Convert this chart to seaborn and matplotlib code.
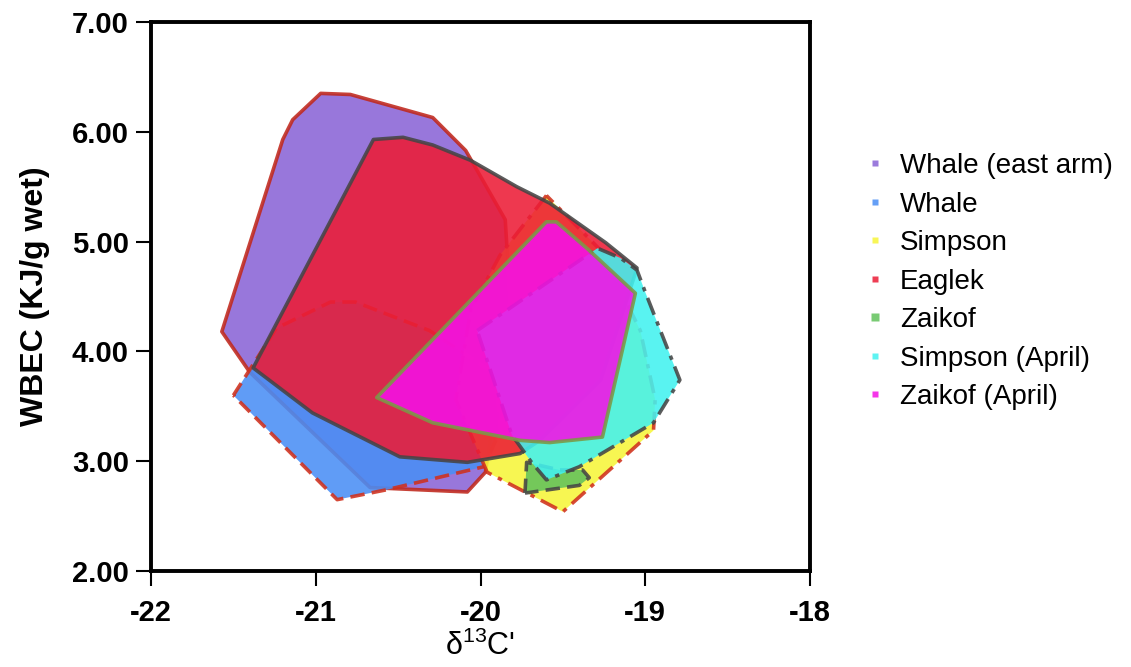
import pandas as pd
import matplotlib.pyplot as plt
import seaborn as sns
from matplotlib.lines import Line2D

# Style
sns.set_theme(style="white")
plt.rcParams['font.family'] = ['Liberation Sans', 'DejaVu Sans']
plt.rcParams['text.color'] = 'black'
plt.rcParams['axes.labelcolor'] = 'black'
plt.rcParams['xtick.color'] = 'black'
plt.rcParams['ytick.color'] = 'black'

# Hull vertices (delta13C', WBEC)
whale_east_x = [-21.57, -21.40, -20.67, -20.08, -19.97, -19.82, -19.85, -20.09, -20.29, -20.79, -20.97, -21.14, -21.20]
whale_east_y = [4.18, 3.81, 2.76, 2.72, 2.90, 4.47, 5.20, 5.83, 6.13, 6.34, 6.35, 6.11, 5.93]

whale_x = [-21.50, -21.24, -20.91, -20.76, -20.31, -19.91, -19.88, -19.98, -20.57, -20.87]
whale_y = [3.60, 4.21, 4.45, 4.45, 4.19, 3.79, 3.28, 2.95, 2.74, 2.65]

simpson_x = [-19.60, -19.88, -20.06, -20.15, -19.96, -19.50, -18.95, -18.94, -19.03, -19.27]
simpson_y = [5.42, 4.88, 4.38, 3.56, 2.90, 2.54, 3.28, 3.56, 4.19, 4.92]

eaglek_x = [-21.38, -20.65, -20.47, -20.29, -20.06, -19.78, -19.58, -19.24, -19.05, -19.27, -19.64, -19.76, -20.08, -20.49, -21.02]
eaglek_y = [3.85, 5.93, 5.95, 5.88, 5.74, 5.50, 5.35, 4.99, 4.76, 3.74, 3.19, 3.07, 2.99, 3.04, 3.44]

zaikof_x = [-19.73, -19.72, -19.52, -19.38, -19.34, -19.40]
zaikof_y = [2.71, 2.99, 2.92, 2.92, 2.85, 2.78]

simpson_apr_x = [-20.02, -19.29, -19.15, -19.05, -19.00, -18.79, -18.95, -19.40, -19.60, -19.69, -19.81]
simpson_apr_y = [4.19, 4.94, 4.85, 4.74, 4.54, 3.74, 3.35, 2.95, 2.83, 2.99, 3.24]

zaikof_apr_x = [-20.63, -19.60, -19.54, -19.34, -19.06, -19.26, -19.58, -19.76, -20.29]
zaikof_apr_y = [3.58, 5.18, 5.18, 4.92, 4.53, 3.22, 3.17, 3.19, 3.35]

sites = ["Whale (east arm)", "Whale", "Simpson", "Eaglek", "Zaikof", "Simpson (April)", "Zaikof (April)"]
hulls = {
    "Whale (east arm)": (whale_east_x, whale_east_y),
    "Whale": (whale_x, whale_y),
    "Simpson": (simpson_x, simpson_y),
    "Eaglek": (eaglek_x, eaglek_y),
    "Zaikof": (zaikof_x, zaikof_y),
    "Simpson (April)": (simpson_apr_x, simpson_apr_y),
    "Zaikof (April)": (zaikof_apr_x, zaikof_apr_y),
}

# fill colour, edge colour, line style
styles = {
    "Whale (east arm)": ("#8a64d6", "#c0281c", "-"),
    "Whale": ("#4a8ef5", "#d0301c", (0, (4, 2))),
    "Simpson": ("#f7f53a", "#d0301c", (0, (5, 2, 1.2, 2))),
    "Eaglek": ("#ec1c36", "#454545", "-"),
    "Zaikof": ("#62c25c", "#454545", (0, (4, 2))),
    "Simpson (April)": ("#42f2f0", "#454545", (0, (5, 2, 1.2, 2))),
    "Zaikof (April)": ("#f412e6", "#7a9a45", "-"),
}
marker_sizes = [4, 4, 4, 4, 6, 4, 4]

rows = []
for s in sites:
    xs, ys = hulls[s]
    for x, y in zip(xs, ys):
        rows.append({"site": s, "d13C": x, "WBEC": y})
df = pd.DataFrame(rows)

fig = plt.figure(figsize=(11.31, 6.67), dpi=100)
ax = fig.add_axes([0.1335, 0.1439, 0.5827, 0.8231])

for s in sites:
    sub = df[df["site"] == s]
    face, edge, ls = styles[s]
    ax.fill(sub["d13C"], sub["WBEC"], facecolor=face, edgecolor=edge,
            linestyle=ls, linewidth=2.6, alpha=0.88, joinstyle="round")

ax.set_xlim(-22, -18)
ax.set_ylim(2, 7)
ax.set_xticks([-22, -21, -20, -19, -18])
ax.set_xticklabels(["-22", "-21", "-20", "-19", "-18"])
ax.set_yticks([2, 3, 4, 5, 6, 7])
ax.set_yticklabels(["2.00", "3.00", "4.00", "5.00", "6.00", "7.00"])
ax.tick_params(axis="both", direction="out", length=11, width=1.5, color="black",
               labelsize=21, left=True, bottom=True)
ax.tick_params(axis="x", pad=9)
ax.tick_params(axis="y", pad=5)
for lab in ax.get_xticklabels() + ax.get_yticklabels():
    lab.set_fontweight("bold")
for sp in ax.spines.values():
    sp.set_color("black")
    sp.set_linewidth(2.8)

ax.set_xlabel("δ$^{\\mathregular{13}}$C'", fontsize=22, labelpad=3)
ax.set_ylabel("WBEC (KJ/g wet)", fontsize=23, fontweight="bold", labelpad=16)

handles = [Line2D([0], [0], marker="s", linestyle="none", markersize=ms,
                  markerfacecolor=styles[s][0], markeredgecolor="none", alpha=0.85)
           for s, ms in zip(sites, marker_sizes)]
fig.legend(handles, sites, loc="upper left", bbox_to_anchor=(0.7418, 0.808),
           frameon=False, fontsize=20, labelspacing=0.45, handletextpad=0.5,
           handlelength=0.8)

fig.savefig("out.png", dpi=100)
